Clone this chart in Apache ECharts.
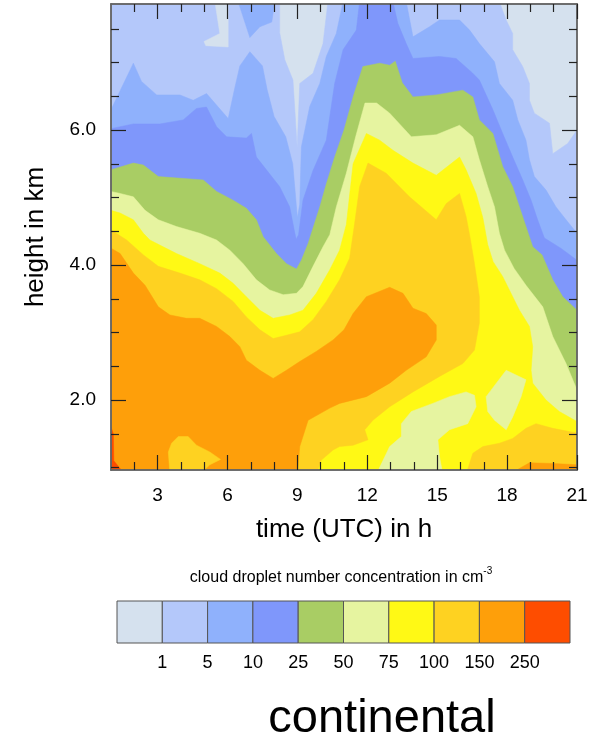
<!DOCTYPE html>
<html>
<head>
<meta charset="utf-8">
<script src="https://cdn.jsdelivr.net/npm/echarts@6/dist/echarts.min.js"></script>
<style>
html, body { margin: 0; padding: 0; background: #fff; }
#chart { width: 597px; height: 741px; }
</style>
</head>
<body>
<div id="chart"></div>
<script>
var FONT = 'Liberation Sans, Arial, Helvetica, sans-serif'

// colour bar
var levelLabels = ['1', '5', '10', '25', '50', '75', '100', '150', '250']
var levelColors = ['#d5e1ee', '#b4c8fa', '#8fb1fc', '#7f97fb', '#a9cd64', '#e6f4a0', '#fff915', '#fed221', '#fe9f0a', '#fe4d00']

// axes
var timeMajor = [3, 6, 9, 12, 15, 18, 21]
var timeMinor = [2, 4, 5, 7, 8, 10, 11, 13, 14, 16, 17, 19, 20]
var heightMajor = [2, 4, 6]
var heightMinor = [1, 1.5, 2.5, 3, 3.5, 4.5, 5, 5.5, 6.5, 7, 7.5]
var timeRange = [1, 21]
var heightRange = [0.963, 7.867]

// contour lines, [time h, height km]
// upper edge of each level (everything below it is >= level)
var lightBlueTop = [[1, 7.9], [8.24, 7.9], [8.24, 7.44], [8.46, 7.04], [8.81, 6.74], [8.99, 5.75], [9.1, 6.69], [9.67, 6.84], [10.1, 7.28], [10.31, 7.9], [17.67, 7.9], [17.96, 7.63], [18.24, 7.43], [18.24, 7.19], [18.67, 6.94], [18.96, 6.69], [18.96, 6.44], [19.17, 6.25], [19.82, 6.1], [19.96, 5.65], [20.6, 5.8], [21, 6.0]]
var medBlueTop = [[1, 6.3], [1.96, 6.99], [2.31, 6.72], [2.96, 6.52], [3.96, 6.52], [4.53, 6.44], [5.1, 6.54], [6.03, 6.17], [6.31, 6.62], [6.53, 6.95], [6.96, 7.16], [7.5, 6.95], [7.7, 6.6], [8.0, 6.2], [8.5, 5.9], [8.8, 5.5], [9.0, 4.7], [9.1, 4.9], [9.17, 5.75], [9.53, 6.35], [9.96, 6.69], [10.24, 7.09], [10.67, 7.43], [10.96, 7.9], [13.67, 7.9], [13.96, 7.38], [14.67, 7.53], [15.1, 7.63], [15.96, 7.63], [16.39, 7.48], [16.81, 7.28], [17.46, 7.01], [17.67, 6.69], [18.24, 6.44], [18.46, 6.15], [18.81, 5.85], [18.96, 5.56], [19.17, 5.31], [19.67, 5.11], [20.1, 4.86], [20.53, 4.67], [21, 4.47]]
var periTop = [[1, 6.02], [1.96, 6.09], [3.1, 6.09], [4.1, 6.15], [4.67, 6.32], [5.1, 6.34], [5.53, 6.05], [5.96, 5.9], [6.81, 5.88], [7.03, 5.95], [7.24, 5.6], [7.67, 5.41], [8.24, 5.16], [8.67, 4.86], [8.89, 4.47], [8.95, 4.38], [9.05, 4.45], [9.24, 4.96], [9.67, 5.4], [10.24, 5.85], [10.6, 6.69], [10.96, 7.19], [11.53, 7.48], [11.67, 7.9], [13.1, 7.9], [13.31, 7.58], [13.67, 7.28], [13.96, 7.06], [15.1, 7.09], [15.81, 7.06], [16.5, 6.85], [16.81, 6.74], [17.39, 6.3], [17.81, 5.95], [18.24, 5.6], [18.67, 5.26], [19.03, 4.96], [19.31, 4.67], [19.6, 4.4], [20.3, 4.25], [21, 4.07]]
var greenTop = [[1, 5.41], [1.96, 5.51], [2.39, 5.48], [3.03, 5.31], [4.96, 5.26], [5.53, 5.09], [6.24, 4.96], [6.81, 4.84], [7.24, 4.67], [7.53, 4.42], [8.1, 4.17], [8.53, 4.02], [8.96, 3.94], [9.17, 4.07], [9.46, 4.32], [9.96, 4.86], [10.24, 5.2], [10.6, 5.6], [11.0, 6.0], [11.4, 6.5], [11.81, 6.94], [12.53, 6.99], [12.96, 6.96], [13.2, 7.02], [13.5, 6.7], [13.96, 6.49], [14.96, 6.52], [16.1, 6.59], [16.53, 6.49], [16.81, 6.15], [17.39, 5.95], [17.81, 5.46], [18.24, 5.16], [18.53, 4.86], [18.81, 4.57], [19.1, 4.27], [19.5, 4.15], [19.96, 3.78], [20.39, 3.53], [21, 3.33]]
var paleTop = [[1, 5.09], [1.39, 5.06], [1.96, 5.01], [2.46, 4.81], [3.03, 4.67], [3.81, 4.57], [4.81, 4.47], [5.53, 4.37], [6.1, 4.22], [6.67, 4.02], [7.24, 3.78], [7.81, 3.63], [8.39, 3.56], [8.96, 3.58], [9.24, 3.68], [9.67, 3.98], [10.1, 4.27], [10.39, 4.45], [10.67, 4.86], [11.1, 5.36], [11.5, 5.9], [11.9, 6.4], [12.4, 6.4], [12.96, 6.25], [13.89, 5.9], [14.96, 5.93], [15.96, 6.07], [16.53, 5.9], [16.81, 5.56], [17.17, 5.16], [17.46, 4.86], [17.67, 4.47], [17.89, 4.22], [18.3, 3.95], [18.81, 3.7], [19.53, 3.38], [19.96, 2.94], [20.53, 2.54], [21, 2.15]]
var yellowTop = [[1, 4.81], [1.39, 4.77], [1.96, 4.67], [2.39, 4.47], [2.67, 4.37], [3.81, 4.17], [4.81, 4.02], [5.67, 3.88], [6.24, 3.73], [6.81, 3.53], [7.39, 3.33], [7.96, 3.21], [8.67, 3.26], [9.24, 3.33], [9.81, 3.58], [10.39, 3.93], [10.81, 4.22], [11.1, 4.6], [11.39, 5.5], [11.96, 5.95], [12.53, 5.85], [13.1, 5.7], [13.96, 5.51], [14.96, 5.33], [15.96, 5.6], [16.24, 5.41], [16.67, 5.06], [16.96, 4.7], [17.17, 4.3], [17.4, 4.05], [17.81, 3.83], [18.53, 3.33], [18.96, 3.09], [19.1, 2.79], [19.03, 2.44], [19.1, 2.25], [19.67, 2.0], [20.24, 1.83], [21, 1.68]]

// closed areas
var lightestPatch = [[5.46, 7.9], [5.67, 7.43], [4.99, 7.31], [5.07, 7.25], [6.03, 7.23], [6.03, 7.9]]
var medBluePatch = [[6.46, 7.9], [6.96, 7.37], [7.39, 7.53], [7.9, 7.6], [8.03, 7.9]]
var palePatchA = [[12.39, 0.9], [12.96, 1.31], [13.46, 1.46], [13.46, 1.65], [13.89, 1.83], [14.81, 1.95], [15.53, 2.05], [16.24, 2.12], [16.6, 2.07], [16.67, 1.9], [16.31, 1.65], [15.53, 1.56], [15.03, 1.41], [15.1, 1.16], [15.24, 0.9]]
var palePatchB = [[17.1, 2.05], [17.96, 2.44], [18.81, 2.3], [18.6, 2.05], [18.24, 1.75], [17.96, 1.56], [17.46, 1.7], [17.17, 1.83]]
var goldArea = [[1, 0.9], [1, 4.52], [1.67, 4.37], [2.39, 4.15], [3.03, 3.98], [3.96, 3.88], [4.81, 3.78], [5.53, 3.65], [6.24, 3.46], [6.81, 3.23], [7.39, 3.04], [7.96, 2.91], [8.53, 2.96], [9.1, 3.01], [9.67, 3.19], [10.24, 3.46], [10.81, 3.78], [11.24, 4.1], [11.45, 4.6], [11.67, 5.16], [12.03, 5.51], [12.81, 5.36], [13.81, 5.01], [14.96, 4.67], [15.39, 4.91], [15.96, 5.06], [16.24, 4.72], [16.39, 4.45], [16.6, 4.02], [16.81, 3.53], [16.81, 3.14], [16.6, 2.74], [16.1, 2.54], [15.1, 2.35], [13.96, 2.12], [12.96, 1.9], [12.24, 1.7], [11.89, 1.56], [12.03, 1.41], [11.39, 1.33], [10.81, 1.31], [10.53, 1.26], [10.03, 1.11], [9.81, 0.9]]
var goldStrip = [[16.24, 0.9], [16.53, 1.21], [16.96, 1.31], [17.67, 1.36], [18.24, 1.43], [18.81, 1.58], [19.24, 1.65], [19.96, 1.58], [21, 1.51], [21, 0.9]]
var orangeArea = [[1, 0.9], [1, 4.25], [1.39, 4.17], [1.96, 3.88], [2.46, 3.7], [3.03, 3.38], [3.53, 3.26], [4.24, 3.21], [4.81, 3.21], [5.53, 3.09], [6.1, 2.94], [6.53, 2.79], [6.81, 2.59], [7.39, 2.44], [7.96, 2.32], [8.53, 2.44], [9.1, 2.57], [9.81, 2.72], [10.53, 2.89], [11.0, 3.04], [11.39, 3.28], [11.96, 3.53], [12.96, 3.67], [13.53, 3.58], [13.96, 3.36], [14.53, 3.28], [14.96, 3.11], [14.96, 2.89], [14.53, 2.64], [13.67, 2.44], [12.96, 2.25], [11.96, 2.05], [10.81, 1.95], [10.39, 1.88], [9.46, 1.7], [9.1, 1.31], [9.0, 0.9]]
var orangeStrip = [[18.1, 0.9], [18.96, 1.07], [19.96, 1.06], [21, 1.04], [21, 0.9]]
var goldPatch = [[3.53, 0.9], [3.46, 1.23], [3.6, 1.36], [3.89, 1.46], [4.31, 1.46], [4.67, 1.33], [5.24, 1.23], [5.7, 1.12], [5.24, 1.04], [4.81, 0.9]]
var redPatch = [[1, 0.9], [1, 1.6], [1.1, 1.5], [1.12, 1.1], [1.4, 0.98], [1.5, 0.9]]

// drawing order: [points, colour index, fill down to the bottom?]
var layers = [
  [lightBlueTop, 1, true],
  [lightestPatch, 0, false],
  [medBlueTop, 2, true],
  [medBluePatch, 2, false],
  [periTop, 3, true],
  [greenTop, 4, true],
  [paleTop, 5, true],
  [yellowTop, 6, true],
  [palePatchA, 5, false],
  [palePatchB, 5, false],
  [goldArea, 7, false],
  [goldStrip, 7, false],
  [orangeArea, 8, false],
  [orangeStrip, 8, false],
  [goldPatch, 7, false],
  [redPatch, 9, false]
]

function areaSeries (pts, color, toBottom, z) {
  var poly = toBottom ? pts.concat([[timeRange[1], 0.9], [timeRange[0], 0.9]]) : pts
  return {
    type: 'custom',
    xAxisIndex: 0,
    yAxisIndex: 0,
    clip: true,
    silent: true,
    z: z,
    data: [[poly[0][0], poly[0][1]]],
    renderItem: function (params, api) {
      return {
        type: 'polygon',
        shape: { points: poly.map(function (p) { return api.coord(p) }) },
        style: { fill: color, stroke: color, lineWidth: 0.5 }
      }
    }
  }
}

var series = layers.map(function (l, i) {
  return areaSeries(l[0], levelColors[l[1]], l[2], 2 + i)
})

// colour bar boxes
series.push({
  type: 'custom',
  xAxisIndex: 4,
  yAxisIndex: 4,
  silent: true,
  data: levelColors.map(function (c, i) { return [i, i + 1] }),
  renderItem: function (params, api) {
    var a = api.coord([api.value(0), 1])
    var b = api.coord([api.value(1), 0])
    return {
      type: 'rect',
      shape: { x: a[0], y: a[1], width: b[0] - a[0], height: b[1] - a[1] },
      style: { fill: levelColors[params.dataIndex], stroke: '#555', lineWidth: 1 }
    }
  }
})

var frame = { show: true, lineStyle: { color: '#666', width: 1.5 } }
function tickAxis (pos, range, values, len, opts) {
  var ax = {
    type: 'value',
    gridIndex: 0,
    position: pos,
    min: range[0],
    max: range[1],
    z: 50,
    axisLine: frame,
    splitLine: { show: false },
    axisTick: { show: true, inside: true, length: len, customValues: values, lineStyle: { color: '#222', width: 1.2 } },
    axisLabel: { show: false }
  }
  return Object.assign(ax, opts || {})
}

var chart = echarts.init(document.getElementById('chart'), null, { renderer: 'canvas' })
chart.setOption({
  animation: false,
  backgroundColor: '#fff',
  grid: [
    { left: 111, right: 20, top: 4, bottom: 271, show: true, backgroundColor: levelColors[0], borderWidth: 0 },
    { left: 117, width: 453, top: 601, height: 42 }
  ],
  xAxis: [
    tickAxis('bottom', timeRange, timeMajor, 15, {
      axisLabel: { show: true, customValues: timeMajor, fontSize: 19, color: '#000', margin: 16, fontFamily: FONT },
      name: 'time (UTC) in h',
      nameLocation: 'middle',
      nameGap: 47,
      nameTextStyle: { fontSize: 26, color: '#000', fontFamily: FONT }
    }),
    tickAxis('bottom', timeRange, timeMinor, 8),
    tickAxis('top', timeRange, timeMajor, 15),
    tickAxis('top', timeRange, timeMinor, 8),
    {
      type: 'value',
      gridIndex: 1,
      min: 0,
      max: 10,
      axisLine: { show: false },
      axisTick: { show: false },
      splitLine: { show: false },
      axisLabel: {
        customValues: [1, 2, 3, 4, 5, 6, 7, 8, 9],
        formatter: function (v) { return levelLabels[v - 1] },
        fontSize: 18,
        color: '#000',
        margin: 11,
        fontFamily: FONT
      }
    }
  ],
  yAxis: [
    tickAxis('left', heightRange, heightMajor, 15, {
      axisLabel: {
        show: true,
        customValues: heightMajor,
        formatter: function (v) { return v.toFixed(1) },
        fontSize: 19,
        color: '#000',
        margin: 15,
        fontFamily: FONT
      },
      name: 'height in km',
      nameLocation: 'middle',
      nameGap: 62,
      nameTextStyle: { fontSize: 26, color: '#000', fontFamily: FONT }
    }),
    tickAxis('left', heightRange, heightMinor, 8),
    tickAxis('right', heightRange, heightMajor, 15),
    tickAxis('right', heightRange, heightMinor, 8),
    { type: 'value', gridIndex: 1, min: 0, max: 1, show: false }
  ],
  graphic: [
    {
      type: 'text',
      x: 341,
      y: 576,
      style: {
        text: '{a|cloud droplet number concentration in cm}{b|-3}',
        align: 'center',
        verticalAlign: 'middle',
        rich: {
          a: { fontSize: 16, fontFamily: FONT, fill: '#000', lineHeight: 20, verticalAlign: 'bottom' },
          b: { fontSize: 10, fontFamily: FONT, fill: '#000', lineHeight: 20, verticalAlign: 'top' }
        }
      }
    },
    {
      type: 'text',
      x: 382,
      y: 719,
      style: {
        text: 'continental',
        align: 'center',
        verticalAlign: 'middle',
        fontSize: 47,
        fontFamily: FONT,
        fill: '#000'
      }
    }
  ],
  series: series
})
</script>
</body>
</html>
